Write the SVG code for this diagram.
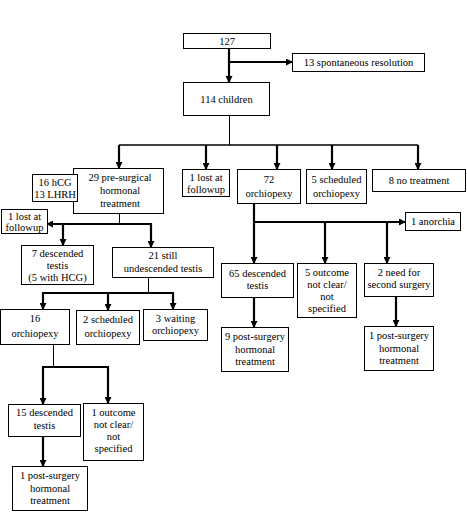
<svg xmlns="http://www.w3.org/2000/svg" width="467" height="523" viewBox="0 0 467 523">
<style>
.b{fill:#fff;stroke:#000;stroke-width:1}
text{font-family:"Liberation Serif","Times New Roman",serif;font-size:10.5px;fill:#000;text-anchor:middle}
.k{stroke:#000;stroke-width:2.2;fill:none}
.t{stroke:#000;stroke-width:1;fill:none}
.m{stroke:#000;stroke-width:1.5;fill:none}
</style>
<defs>
<marker id="a" markerUnits="userSpaceOnUse" markerWidth="7" markerHeight="7" refX="6" refY="3.5" orient="auto"><path d="M0,0 L7,3.5 L0,7 z" fill="#000"/></marker>
</defs>
<rect width="467" height="523" fill="#fff"/>
<g id="connectors">
<path class="k" d="M229,48 V82" marker-end="url(#a)"/>
<path class="k" d="M229,62 H292" marker-end="url(#a)"/>
<path class="t" d="M229.5,115 V145"/>
<path class="m" d="M119,145 H418"/>
<path class="k" d="M119,145 V168" marker-end="url(#a)"/>
<path class="k" d="M206,145 V169" marker-end="url(#a)"/>
<path class="k" d="M277,145 V169" marker-end="url(#a)"/>
<path class="k" d="M332,145 V169" marker-end="url(#a)"/>
<path class="k" d="M418,145 V169" marker-end="url(#a)"/>
<path class="t" d="M119.5,213 V224"/>
<path class="k" d="M151,224 H47" marker-end="url(#a)"/>
<path class="k" d="M63,224 V245" marker-end="url(#a)"/>
<path class="k" d="M151,223 V247" marker-end="url(#a)"/>
<path class="t" d="M148.5,277 V293"/>
<path class="k" d="M43,293 H173"/>
<path class="k" d="M43,292 V309" marker-end="url(#a)"/>
<path class="k" d="M108,293 V310" marker-end="url(#a)"/>
<path class="k" d="M173,292 V309" marker-end="url(#a)"/>
<path class="t" d="M53.5,344 V367"/>
<path class="k" d="M43,367 H108"/>
<path class="k" d="M43,366 V404" marker-end="url(#a)"/>
<path class="k" d="M108,366 V403" marker-end="url(#a)"/>
<path class="k" d="M43,436 V466" marker-end="url(#a)"/>
<path class="k" d="M254,203 V263" marker-end="url(#a)"/>
<path class="k" d="M254,222 H405" marker-end="url(#a)"/>
<path class="k" d="M325,221 V263" marker-end="url(#a)"/>
<path class="k" d="M387,221 V263" marker-end="url(#a)"/>
<path class="k" d="M254,297 V327" marker-end="url(#a)"/>
<path class="k" d="M396,296 V326" marker-end="url(#a)"/>
</g>
<g id="n127"><rect class="b" x="183.5" y="33.5" width="87" height="15"/><text x="227" y="45">127</text></g>
<g id="n13"><rect class="b" x="292.5" y="53.5" width="132" height="18"/><text x="358.5" y="66">13 spontaneous resolution</text></g>
<g id="n114"><rect class="b" x="183.5" y="82.5" width="86" height="33"/><text x="226.5" y="103">114 children</text></g>
<g id="n29"><rect class="b" x="73.5" y="168.5" width="90" height="45"/><text x="120" y="181">29 pre-surgical</text><text x="120" y="194">hormonal</text><text x="120" y="207">treatment</text></g>
<g id="n16hcg"><rect class="b" x="32.5" y="174.5" width="45" height="27"/><text x="55" y="186">16 hCG</text><text x="55" y="198">13 LHRH</text></g>
<g id="nlost1"><rect class="b" x="182.5" y="169.5" width="47" height="27"/><text x="206" y="181">1 lost at</text><text x="206" y="193">followup</text></g>
<g id="n72"><rect class="b" x="237.5" y="169.5" width="63" height="34"/><text x="269" y="183">72</text><text x="269" y="197">orchiopexy</text></g>
<g id="n5sch"><rect class="b" x="306.5" y="169.5" width="60" height="34"/><text x="336.5" y="183">5 scheduled</text><text x="336.5" y="197">orchiopexy</text></g>
<g id="n8"><rect class="b" x="372.5" y="169.5" width="93" height="22"/><text x="419" y="184">8 no treatment</text></g>
<g id="nlost2"><rect class="b" x="1.5" y="209.5" width="46" height="24"/><text x="24.5" y="220">1 lost at</text><text x="24.5" y="231">followup</text></g>
<g id="n7"><rect class="b" x="21.5" y="245.5" width="72" height="39"/><text x="57.5" y="257">7 descended</text><text x="57.5" y="269">testis</text><text x="57.5" y="281">(5 with HCG)</text></g>
<g id="n21"><rect class="b" x="112.5" y="247.5" width="101" height="30"/><text x="163" y="259">21 still</text><text x="163" y="272">undescended testis</text></g>
<g id="n16"><rect class="b" x="0.5" y="309.5" width="69" height="35"/><text x="35" y="322">16</text><text x="35" y="337">orchiopexy</text></g>
<g id="n2sch"><rect class="b" x="76.5" y="310.5" width="63" height="34"/><text x="108" y="323">2 scheduled</text><text x="108" y="337">orchiopexy</text></g>
<g id="n3w"><rect class="b" x="143.5" y="309.5" width="64" height="31"/><text x="175.5" y="322">3 waiting</text><text x="175.5" y="334">orchiopexy</text></g>
<g id="n15"><rect class="b" x="8.5" y="404.5" width="72" height="32"/><text x="44.5" y="416">15 descended</text><text x="44.5" y="429">testis</text></g>
<g id="n1out"><rect class="b" x="83.5" y="403.5" width="60" height="57"/><text x="113.5" y="416">1 outcome</text><text x="113.5" y="428">not clear/</text><text x="113.5" y="440">not</text><text x="113.5" y="452">specified</text></g>
<g id="n1postl"><rect class="b" x="12.5" y="466.5" width="75" height="44"/><text x="50" y="479">1 post-surgery</text><text x="50" y="491.5">hormonal</text><text x="50" y="504">treatment</text></g>
<g id="nanor"><rect class="b" x="405.5" y="212.5" width="55" height="18"/><text x="433" y="225">1 anorchia</text></g>
<g id="n65"><rect class="b" x="221.5" y="263.5" width="72" height="34"/><text x="257.5" y="277">65 descended</text><text x="257.5" y="289">testis</text></g>
<g id="n5out"><rect class="b" x="297.5" y="263.5" width="59" height="54"/><text x="327" y="276">5 outcome</text><text x="327" y="288">not clear/</text><text x="327" y="300">not</text><text x="327" y="312">specified</text></g>
<g id="n2need"><rect class="b" x="364.5" y="263.5" width="69" height="33"/><text x="399" y="276">2 need for</text><text x="399" y="288">second surgery</text></g>
<g id="n9post"><rect class="b" x="221.5" y="327.5" width="67" height="44"/><text x="255" y="340">9 post-surgery</text><text x="255" y="352.5">hormonal</text><text x="255" y="365">treatment</text></g>
<g id="n1postr"><rect class="b" x="364.5" y="326.5" width="69" height="44"/><text x="399" y="339">1 post-surgery</text><text x="399" y="351.5">hormonal</text><text x="399" y="364">treatment</text></g>
</svg>
